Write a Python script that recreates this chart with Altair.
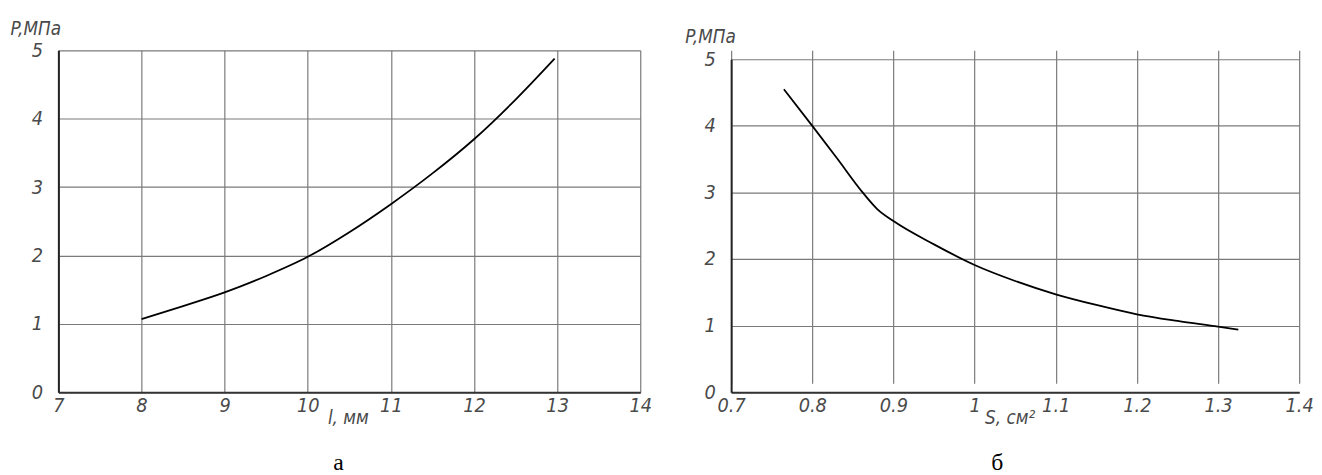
import altair as alt
import pandas as pd

# --- data ---
l_mm = [8.0, 8.5, 9.0, 9.5, 10.0, 10.5, 11.0, 11.5, 12.0, 12.5, 12.97]
p_a = [1.07, 1.26, 1.46, 1.70, 1.98, 2.34, 2.75, 3.20, 3.70, 4.28, 4.88]

s_cm2 = [0.765, 0.8, 0.83, 0.862, 0.88, 0.9, 0.95, 1.0, 1.05, 1.1, 1.15, 1.2, 1.25, 1.3, 1.325]
p_b = [4.55, 4.0, 3.52, 3.0, 2.75, 2.57, 2.22, 1.91, 1.67, 1.47, 1.31, 1.17, 1.07, 0.985, 0.94]

x_ticks_a = [7, 8, 9, 10, 11, 12, 13, 14]
x_ticks_b = [0.7, 0.8, 0.9, 1.0, 1.1, 1.2, 1.3, 1.4]
y_ticks = [0, 1, 2, 3, 4, 5]

y_title = "P,МПа"
x_title_a = "l, мм"
x_title_b = "S, см²"
caption_a = "а"
caption_b = "б"

FONT = "Liberation Sans Narrow, DejaVu Sans Condensed, Liberation Sans, sans-serif"
TXT = "#4a4a4a"
GRID = "#7a7a7a"
H = 346


def x_axis(values, fmt, title, title_x):
    return alt.Axis(
        values=values, format=fmt, title=title, titleX=title_x, titleY=17,
        titleAlign="center", titleBaseline="top", titleFont=FONT, titleFontSize=19,
        titleFontStyle="italic", titleFontWeight="normal", titleColor=TXT,
        labelFont=FONT, labelFontSize=20, labelFontStyle="italic", labelColor=TXT,
        labelPadding=4, labelFlush=False, labelOverlap=False,
        ticks=False, tickSize=0, domainColor="#333333", domainWidth=2,
        grid=True, gridColor=GRID, gridWidth=1.2, gridOpacity=1,
    )


def y_axis(title_x, title_y):
    return alt.Axis(
        values=y_ticks, format="d", title=y_title, titleAngle=0, titleX=title_x,
        titleY=title_y, titleAlign="left", titleBaseline="top", titleFont=FONT,
        titleFontSize=19, titleFontStyle="italic", titleFontWeight="normal",
        titleColor=TXT, labelFont=FONT, labelFontSize=20, labelFontStyle="italic",
        labelColor=TXT, labelPadding=16, labelFlush=False, labelOverlap=False,
        ticks=False, tickSize=0, domainColor="#222222", domainWidth=2,
        grid=True, gridColor=GRID, gridWidth=1.2, gridOpacity=1,
    )


def caption(text, dx):
    return alt.TitleParams(text=text, orient="bottom", anchor="middle",
                           font="Liberation Serif", fontSize=24, dx=dx,
                           fontWeight="normal", color="black", offset=24)


df_a = pd.DataFrame({"x": l_mm, "p": p_a})
df_b = pd.DataFrame({"x": s_cm2, "p": p_b})

panel_a = alt.Chart(df_a).mark_line(color="black", strokeWidth=1.8, interpolate="monotone").encode(
    x=alt.X("x:Q", scale=alt.Scale(domain=[7, 14], nice=False, zero=False),
            axis=x_axis(x_ticks_a, "d", x_title_a, 293)),
    y=alt.Y("p:Q", scale=alt.Scale(domain=[0, 5], nice=False),
            axis=y_axis(-49, -31)),
).properties(width=589, height=H, title=caption(caption_a, -11))

panel_b = alt.Chart(df_b).mark_line(color="black", strokeWidth=1.8, interpolate="monotone").encode(
    x=alt.X("x:Q", scale=alt.Scale(domain=[0.7, 1.4], nice=False, zero=False),
            axis=x_axis(x_ticks_b, "~g", x_title_b, 282)),
    y=alt.Y("p:Q", scale=alt.Scale(domain=[0, 5], nice=False, range=[H, 9]),
            axis=y_axis(-47, -23)),
).properties(width=575, height=H, title=caption(caption_b, -18))

chart = alt.hconcat(panel_a, panel_b, spacing=33).properties(
    padding={"left": 2, "top": 9, "right": 0, "bottom": 0}
).configure_view(stroke=None)

chart.save("out.html", embed_options={"renderer": "svg", "actions": False})
